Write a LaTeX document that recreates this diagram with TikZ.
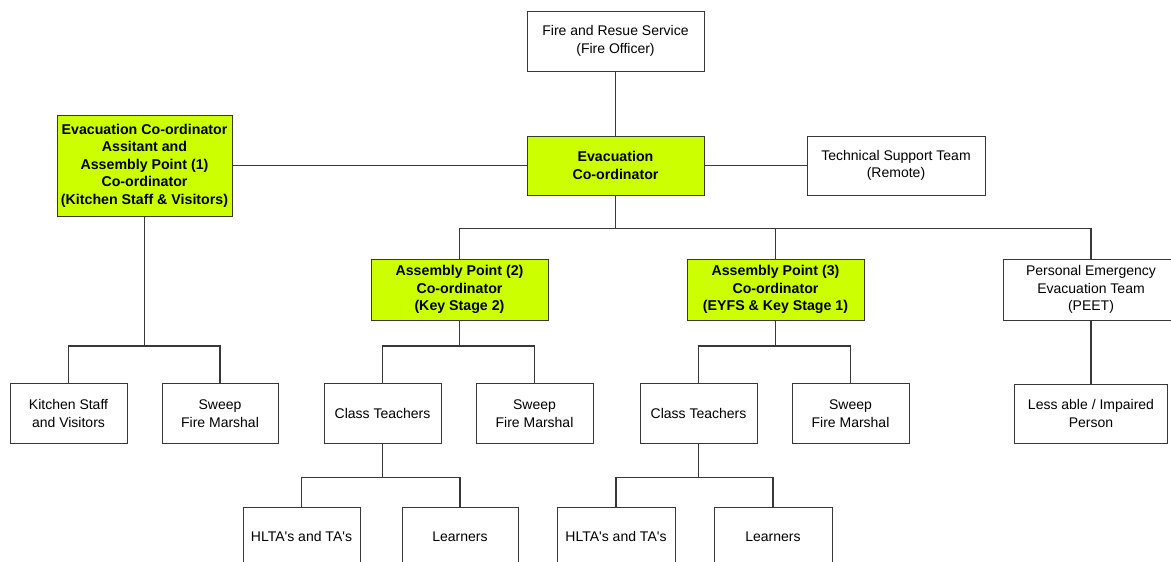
\documentclass[tikz,border=0pt]{standalone}
\usepackage{fontspec}
\setmainfont{Liberation Sans}
\definecolor{lime}{HTML}{CCFF00}
\definecolor{edge}{HTML}{383838}
\tikzset{
  box/.style={draw=edge, line width=1pt, fill=white, align=center, inner sep=0pt,
    font=\fontsize{14}{17.5}\selectfont},
  gbox/.style={box, fill=lime, font=\fontsize{14.2}{17.5}\selectfont\bfseries},
  lbl/.style={font=\fontsize{14}{17.5}\selectfont},
  conn/.style={draw=edge, line width=1.1pt}
}
\begin{document}
\begin{tikzpicture}[x=1pt,y=-1pt]
\clip (0,0) rectangle (1171,562);
\fill[white] (0,0) rectangle (1171,562);
% nodes
\node[box, minimum width=177pt, minimum height=60pt] (fire) at (615.5,41) {Fire and Resue Service\\(Fire Officer)};
\node[gbox, minimum width=177pt, minimum height=59pt] (evac) at (615.5,165.5) {Evacuation\\Co-ordinator};
\node[gbox, minimum width=175pt, minimum height=101pt] (asst) at (144.5,165.5) {Evacuation Co-ordinator\\Assitant and\\Assembly Point (1)\\Co-ordinator\\(Kitchen Staff \& Visitors)};
\node[box, minimum width=178pt, minimum height=59pt] (tech) at (896,165.5) {Technical Support Team\\(Remote)};
\node[gbox, minimum width=177pt, minimum height=61pt] (ap2) at (459.5,289.5) {Assembly Point (2)\\Co-ordinator\\(Key Stage 2)};
\node[gbox, minimum width=177pt, minimum height=61pt] (ap3) at (775.5,289.5) {Assembly Point (3)\\Co-ordinator\\(EYFS \& Key Stage 1)};
\node[box, minimum width=176pt, minimum height=61pt] (peet) at (1091,289.5) {Personal Emergency\\Evacuation Team\\(PEET)};
\node[box, minimum width=153pt, minimum height=59pt] (less) at (1091,413.5) {Less able / Impaired\\Person};
\node[box, minimum width=117pt, minimum height=60pt] (kitchen) at (68.5,413.5) {Kitchen Staff\\and Visitors};
\node[box, minimum width=116pt, minimum height=60pt] (sweep1) at (220,413.5) {Sweep\\Fire Marshal};
\node[box, minimum width=117pt, minimum height=60pt] (ct1) at (382.5,413.5) {Class Teachers};
\node[box, minimum width=117pt, minimum height=60pt] (sweep2) at (534.5,413.5) {Sweep\\Fire Marshal};
\node[box, minimum width=117pt, minimum height=60pt] (ct2) at (698.5,413.5) {Class Teachers};
\node[box, minimum width=117pt, minimum height=60pt] (sweep3) at (850.5,413.5) {Sweep\\Fire Marshal};
\node[box, minimum width=117pt, minimum height=60pt] (hlta1) at (301.5,537) {};
\node[box, minimum width=116pt, minimum height=60pt] (learn1) at (460,537) {};
\node[box, minimum width=118pt, minimum height=60pt] (hlta2) at (616,537) {};
\node[box, minimum width=118pt, minimum height=60pt] (learn2) at (773,537) {};
\node[lbl] (hlta1t) at (301.5,536.5) {HLTA\textquotesingle s and TA\textquotesingle s};
\node[lbl] (learn1t) at (460,536.5) {Learners};
\node[lbl] (hlta2t) at (616,536.5) {HLTA\textquotesingle s and TA\textquotesingle s};
\node[lbl] (learn2t) at (773,536.5) {Learners};
% bus levels
\coordinate (bmain) at (0,228.5);
\coordinate (bleft) at (0,346);
\coordinate (bap) at (0,346);
\coordinate (bct) at (0,477.5);
% connectors
\draw[conn] (fire.south) -- (evac.north);
\draw[conn] (asst.east |- evac.west) -- (evac.west);
\draw[conn] (evac.east) -- (tech.west);
\foreach \c in {ap2,ap3,peet}{
  \draw[conn] (\c.north) -- (\c.north |- bmain) -| (evac.south);
}
\foreach \c in {kitchen,sweep1}{
  \draw[conn] (\c.north) -- (\c.north |- bleft) -| (asst.south);
}
\foreach \c in {ct1,sweep2}{
  \draw[conn] (\c.north) -- (\c.north |- bap) -| (ap2.south);
}
\foreach \c in {ct2,sweep3}{
  \draw[conn] (\c.north) -- (\c.north |- bap) -| (ap3.south);
}
\foreach \c in {hlta1,learn1}{
  \draw[conn] (\c.north) -- (\c.north |- bct) -| (ct1.south);
}
\foreach \c in {hlta2,learn2}{
  \draw[conn] (\c.north) -- (\c.north |- bct) -| (ct2.south);
}
\draw[conn] (peet.south) -- (less.north);
\end{tikzpicture}
\end{document}
